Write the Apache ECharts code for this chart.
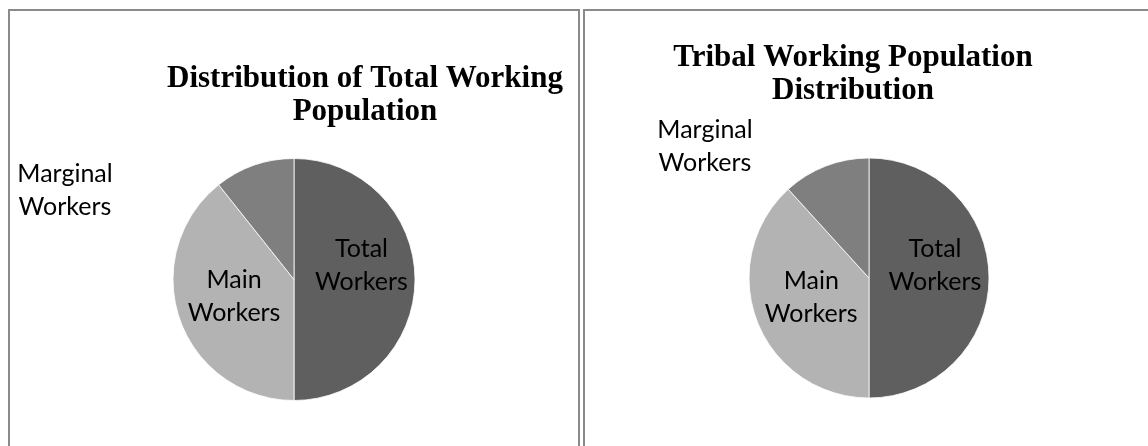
<!DOCTYPE html>
<html>
<head>
<meta charset="utf-8">
<script src="https://cdn.jsdelivr.net/npm/echarts@6/dist/echarts.min.js"></script>
<style>
html,body{margin:0;padding:0;background:#fff;}
#chart{width:1148px;height:446px;}
</style>
</head>
<body>
<div id="chart"></div>
<script>
// Data
const categories = ['Total Workers', 'Main Workers', 'Marginal Workers'];
const totalPopValues = [100, 78.6, 21.4];
const tribalPopValues = [100, 76.5, 23.5];
const titles = ['Distribution of Total Working\nPopulation', 'Tribal Working Population\nDistribution'];
const sliceColors = ['#5f5f5f', '#b3b3b3', '#7f7f7f'];

const chart = echarts.init(document.getElementById('chart'), null, {renderer: 'canvas'});

function makeData(values) {
  return categories.map((c, i) => ({name: c, value: values[i], itemStyle: {color: sliceColors[i]}}));
}

function pieSeries(values, center, radius, marginalPos, totalShift, mainShift) {
  return {
    type: 'pie',
    center: center,
    radius: radius,
    startAngle: 90,
    clockwise: true,
    animation: false,
    silent: true,
    data: makeData(values),
    itemStyle: {borderColor: '#ffffff', borderWidth: 0.8},
    label: {
      show: true,
      position: 'inside',
      formatter: p => p.name.replace(' ', '\n'),
      fontFamily: 'Lato',
      fontSize: 25,
      lineHeight: 33,
      color: '#000',
      align: 'center'
    },
    labelLine: {show: false},
    labelLayout: function (params) {
      if (params.dataIndex === 2) {
        return {x: marginalPos[0], y: marginalPos[1], align: 'center', verticalAlign: 'middle'};
      }
      if (params.dataIndex === 0) {
        return {dx: totalShift[0], dy: totalShift[1]};
      }
      return {dx: mainShift[0], dy: mainShift[1]};
    }
  };
}

const titleFont = 'bold 31px "Liberation Serif", "Times New Roman", serif';

chart.setOption({
  backgroundColor: '#ffffff',
  animation: false,
  graphic: [
    {type: 'rect', shape: {x: 9, y: 10, width: 570, height: 500}, style: {fill: 'none', stroke: '#8a8a8a', lineWidth: 2}, z: 10},
    {type: 'rect', shape: {x: 584, y: 10, width: 600, height: 500}, style: {fill: 'none', stroke: '#8a8a8a', lineWidth: 2}, z: 10},
    {type: 'text', x: 365, y: 62, style: {text: titles[0], font: titleFont, textAlign: 'center', lineHeight: 33, fill: '#000'}, z: 10},
    {type: 'text', x: 853, y: 41, style: {text: titles[1], font: titleFont, textAlign: 'center', lineHeight: 33, fill: '#000'}, z: 10}
  ],
  series: [
    pieSeries(totalPopValues, [294, 279.5], 121, [65, 190], [4, -14], [0, -4]),
    pieSeries(tribalPopValues, [869, 278], 120, [705, 146], [3, -13], [1, -3])
  ]
});
</script>
</body>
</html>
